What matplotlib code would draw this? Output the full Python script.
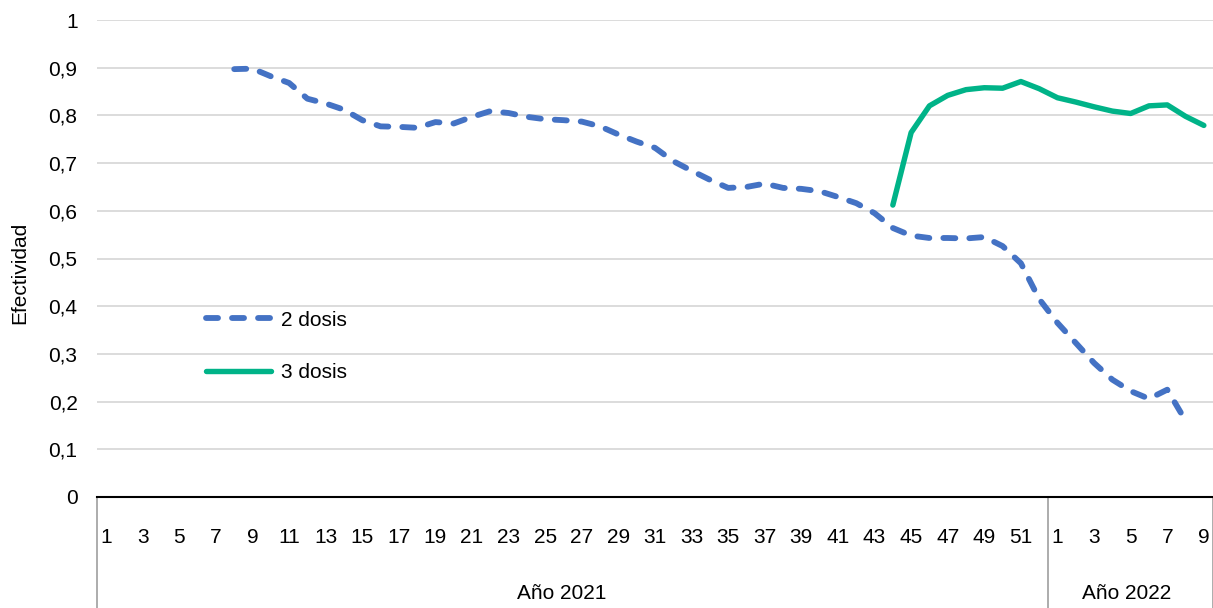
import numpy as np
import matplotlib
matplotlib.use("Agg")
import matplotlib.pyplot as plt
import matplotlib.transforms as mtransforms

plt.rcParams['font.family'] = ['Liberation Sans', 'DejaVu Sans']

nan = np.nan
weeks_2021 = list(range(1, 53))
weeks_2022 = list(range(1, 10))
year_labels = ["Año 2021", "Año 2022"]
series_names = ["2 dosis", "3 dosis"]

dos_dosis_2021 = [nan] * 7 + [
    0.897, 0.898, 0.882, 0.868, 0.835, 0.825, 0.812, 0.790, 0.777, 0.776,
    0.774, 0.786, 0.783, 0.797, 0.809, 0.805, 0.797, 0.792, 0.790, 0.787,
    0.777, 0.760, 0.745, 0.732, 0.704, 0.684, 0.665, 0.648, 0.650, 0.657,
    0.648, 0.646, 0.641, 0.629, 0.616, 0.595, 0.564, 0.548, 0.543, 0.543,
    0.542, 0.545, 0.526, 0.490, 0.415]
dos_dosis_2022 = [0.365, 0.323, 0.281, 0.246, 0.222, 0.206, 0.225, 0.160, nan]

tres_dosis_2021 = [nan] * 43 + [
    0.612, 0.764, 0.820, 0.842, 0.854, 0.858, 0.857, 0.871, 0.856]
tres_dosis_2022 = [0.837, 0.828, 0.818, 0.809, 0.804, 0.820, 0.822, 0.798, 0.779]

y_ticks = [0, 0.1, 0.2, 0.3, 0.4, 0.5, 0.6, 0.7, 0.8, 0.9, 1.0]

dos = np.array(dos_dosis_2021 + dos_dosis_2022, dtype=float)
tres = np.array(tres_dosis_2021 + tres_dosis_2022, dtype=float)
week_labels = weeks_2021 + weeks_2022
n = len(week_labels)
x = np.arange(n)

fig = plt.figure(figsize=(12.13, 6.08), dpi=100)
ax = fig.add_axes([97 / 1213, 1 - 497 / 608, 1 - 97 / 1213, (497 - 20) / 608])

blue = '#4472C4'
green = '#00B388'
FS = 15

l1, = ax.plot(x, dos, color=blue, lw=4.2, linestyle=(0, (2.06, 2.4)),
              dash_capstyle='round', dash_joinstyle='round',
              solid_capstyle='round', label=series_names[0])
l2, = ax.plot(x, tres, color=green, lw=3.9, solid_capstyle='round',
              solid_joinstyle='round', label=series_names[1])

ax.set_xlim(-0.5, n - 0.5)
ax.set_ylim(0, 1)
ax.set_yticks(y_ticks)
ax.set_yticklabels([('%g' % v).replace('.', ',') for v in y_ticks], fontsize=FS)
ax.grid(axis='y', color='#D9D9D9', lw=1.3)
ax.set_axisbelow(True)

ax.set_xticks(x)
ax.set_xticklabels([str(w) if w % 2 == 1 else '' for w in week_labels], fontsize=FS)
ax.tick_params(axis='x', length=0, pad=22)
ax.tick_params(axis='y', length=0, pad=14)

for s in ['left', 'right', 'top']:
    ax.spines[s].set_visible(False)
ax.spines['bottom'].set_color('black')
ax.spines['bottom'].set_linewidth(1.5)

ax.set_ylabel('Efectividad', fontsize=FS)
ax.yaxis.set_label_coords(-0.0605, 0.47)

trans = mtransforms.blended_transform_factory(ax.transData, ax.transAxes)
bounds = [-0.5, len(weeks_2021) - 0.5, n - 0.5]
for b in bounds:
    ax.plot([b, b], [0, -0.25], transform=trans, color='#A6A6A6', lw=1.3, clip_on=False)
offsets = [-0.6, -0.2]
for i, lab in enumerate(year_labels):
    xc = (bounds[i] + bounds[i + 1]) / 2 + offsets[i]
    ax.text(xc, -0.202, lab, transform=trans, ha='center', va='center', fontsize=FS)

leg = ax.legend(handles=[l1, l2], loc='upper left', bbox_to_anchor=(0.0904, 0.408),
                frameon=False, fontsize=FS, handlelength=3.1, handletextpad=0.5,
                labelspacing=1.6, borderaxespad=0)

fig.savefig('out.png', dpi=100)
